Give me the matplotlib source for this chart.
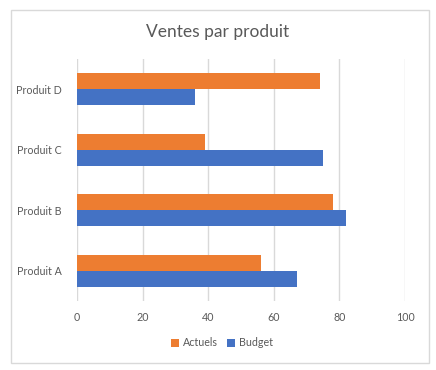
import matplotlib
matplotlib.use("Agg")
import matplotlib.pyplot as plt
from matplotlib.patches import Rectangle
import numpy as np

categories = ["Produit A", "Produit B", "Produit C", "Produit D"]
budget = [67, 82, 75, 36]
actuels = [56, 78, 39, 74]
xticks = [0, 20, 40, 60, 80, 100]

plt.rcParams['font.family'] = ['Lato', 'DejaVu Sans']
txt = '#595959'
fig = plt.figure(figsize=(4.36, 3.70), dpi=100)
fig.patches.append(Rectangle((11/436, 1-363/370), 418/436, 353/370, transform=fig.transFigure,
                             fill=False, edgecolor='#D9D9D9', linewidth=1))
ax = fig.add_axes([77/436, 1-301.3/370, 328/436, 242.6/370])
y = np.arange(len(categories))
h = 0.265
ax.barh(y - h/2, budget, height=h, color='#4472C4', label='Budget')
ax.barh(y + h/2, actuels, height=h, color='#ED7D31', label='Actuels')
ax.set_xlim(0, 100)
ax.set_ylim(-0.5, 3.5)
ax.set_xticks(xticks)
ax.set_xticklabels([str(t) for t in xticks])
ax.set_yticks(y)
ax.set_yticklabels(categories)
ax.grid(axis='x', color='#D9D9D9', linewidth=1)
ax.set_axisbelow(True)
for s in ax.spines.values():
    s.set_visible(False)
ax.tick_params(length=0, colors=txt, labelsize=7.7)
ax.tick_params(axis='y', pad=11)
ax.tick_params(axis='x', pad=8)
fig.text(0.5, 1-32/370, "Ventes par produit", ha='center', va='center', fontsize=12.5, color=txt)
handles, labels = ax.get_legend_handles_labels()
leg = fig.legend(handles[::-1], labels[::-1], loc='center', bbox_to_anchor=(222/436, 1-343/370),
                 ncol=2, frameon=False, fontsize=7.7, handlelength=0.75, handleheight=0.75,
                 handletextpad=0.3, columnspacing=0.9, labelcolor=txt)
fig.savefig("out.png", dpi=100)
